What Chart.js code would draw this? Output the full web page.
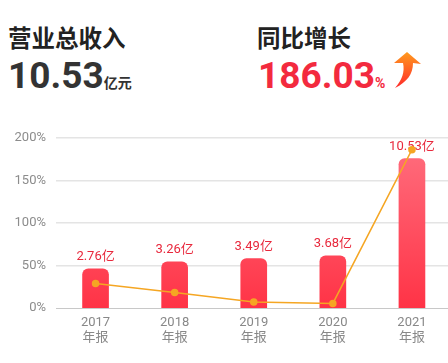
<!DOCTYPE html>
<html>
<head>
<meta charset="utf-8">
<script src="https://cdn.jsdelivr.net/npm/chart.js@4/dist/chart.umd.min.js"></script>
<style>
  html, body { margin: 0; padding: 0; background: #fff; overflow: hidden; width: 448px; height: 363px; }
  .box { position: absolute; }
  .title { font: bold 23.5px "Noto Sans CJK SC", sans-serif; color: #222; line-height: 24px; }
  .big { font: bold 37px Roboto, "Noto Sans", sans-serif; line-height: 37px; white-space: nowrap; }
  .unit { font: bold 14px "Noto Sans CJK SC", sans-serif; }
  .pct { font: bold 14px Roboto, sans-serif; }
  #wrap { position: absolute; left: 0; top: 120px; width: 456px; height: 243px; }
</style>
</head>
<body>
<div class="box title" style="left:8px;top:25px;">营业总收入</div>
<div class="box big" style="left:8px;top:57px;color:#333;">10.53<span class="unit">亿元</span></div>
<div class="box title" style="left:257px;top:25px;">同比增长</div>
<div class="box big" style="left:258px;top:57px;color:#f32a3e;">186.03<span class="pct">%</span></div>
<svg class="box" style="left:390px;top:50px;" width="36" height="42" viewBox="0 0 36 42">
  <defs>
    <linearGradient id="ag" x1="0" y1="0" x2="0" y2="1">
      <stop offset="0" stop-color="#ff9a1e"/>
      <stop offset="1" stop-color="#ff2a2a"/>
    </linearGradient>
  </defs>
  <path d="M17,2 L31,14 L23,13 C23,24 17,32 5,38 C12,30 15,22 13,13 L4,13 Z" fill="url(#ag)"/>
</svg>
<div id="wrap"><canvas id="c" width="456" height="243"></canvas></div>
<script>
// data
const years = ['2017', '2018', '2019', '2020', '2021'];
const revenue = [2.76, 3.26, 3.49, 3.68, 10.53];      // 亿
const growth = [28.8, 18.1, 7.1, 5.4, 186.03];         // %
const yTicks = [0, 50, 100, 150, 200];

const labelRed = '#e8283c';

// revenue labels above bars
const barLabels = {
  id: 'barLabels',
  beforeDatasetsDraw(chart) {
    const ctx = chart.ctx;
    const meta = chart.getDatasetMeta(0);
    ctx.save();
    ctx.font = '13px Roboto, "Noto Sans CJK SC", sans-serif';
    ctx.fillStyle = labelRed;
    ctx.textAlign = 'center';
    ctx.textBaseline = 'middle';
    meta.data.forEach((bar, i) => {
      ctx.fillText(revenue[i] + '亿', bar.x, bar.y - 12);
    });
    ctx.restore();
  }
};

const ctx = document.getElementById('c').getContext('2d');
new Chart(ctx, {
  data: {
    labels: years.map(y => [y, '年报']),
    datasets: [
      {
        type: 'bar',
        data: revenue,
        yAxisID: 'y1',
        order: 1,
        barThickness: 26,
        borderRadius: { topLeft: 6, topRight: 6 },
        borderSkipped: 'bottom',
        backgroundColor(c) {
          const area = c.chart.chartArea;
          if (!area) return '#ff4455';
          const g = c.chart.ctx.createLinearGradient(0, area.top, 0, area.bottom);
          g.addColorStop(0, '#ff7080');
          g.addColorStop(1, '#ff3346');
          return g;
        }
      },
      {
        type: 'line',
        data: growth,
        yAxisID: 'y',
        order: 0,
        borderColor: '#f5a623',
        backgroundColor: '#f5a623',
        borderWidth: 1.5,
        pointRadius: 3,
        pointHoverRadius: 3,
        tension: 0
      }
    ]
  },
  options: {
    responsive: false,
    animation: false,
    layout: { padding: { top: 13, bottom: 0, left: 0, right: 0 } },
    plugins: { legend: { display: false }, tooltip: { enabled: false } },
    scales: {
      x: {
        grid: { display: false, drawTicks: false },
        border: { display: true, color: '#c8c8c8', width: 1, dash: [6, 4] },
        ticks: {
          color: '#888',
          padding: 8,
          font: { family: 'Roboto, "Noto Sans CJK SC", sans-serif', size: 13, lineHeight: 1.1 }
        },
        afterFit(s) { s.height = 55; }
      },
      y: {
        min: 0,
        max: 200,
        afterBuildTicks(s) { s.ticks = yTicks.map(v => ({ value: v })); },
        grid: {
          drawTicks: false,
          lineWidth: 1.5,
          color: c => (c.tick && c.tick.value === 0 ? 'rgba(0,0,0,0)' : '#e4e4e4')
        },
        border: { display: false },
        ticks: {
          color: '#8c8c8c',
          padding: 10,
          font: { family: 'Roboto, sans-serif', size: 13 },
          callback: v => v + '%'
        },
        afterFit(s) { s.width = 56; }
      },
      y1: {
        display: false,
        min: 0,
        max: 12
      }
    }
  },
  plugins: [barLabels]
});
</script>
</body>
</html>
